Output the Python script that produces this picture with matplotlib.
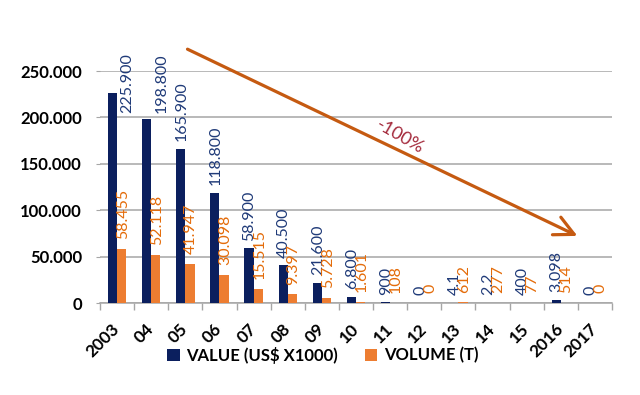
import matplotlib
matplotlib.use("Agg")
import matplotlib.pyplot as plt
import numpy as np

# ---- data ----
years = ["2003", "04", "05", "06", "07", "08", "09", "10", "11", "12",
         "13", "14", "15", "2016", "2017"]
value_usd_k = [225900, 198800, 165900, 118800, 58900, 40500, 21600, 6800,
               900, 0, 4.1, 2.2, 400, 3098, 0]
volume_t = [58455, 52118, 41947, 30098, 15515, 9397, 5728, 1601,
            108, 0, 612, 277, 77, 514, 0]
yticks = [0, 50000, 100000, 150000, 200000, 250000]
series_names = ["VALUE (US$ X1000)", "VOLUME (T)"]
trend_label = "-100%"

# ---- style ----
NAVY = "#0B1F5E"
NAVY_TXT = "#1F3A78"
ORANGE = "#ED7D31"
ORANGE_TXT = "#E46C0A"
ARROW = "#C55A11"
TREND_TXT = "#A3283A"
GRID = "#A6A6A6"

plt.rcParams["font.family"] = ["Lato", "DejaVu Sans"]


def fmt(v):
    if float(v).is_integer():
        return f"{int(v):,}".replace(",", ".")
    return str(v)


fig = plt.figure(figsize=(6.4, 3.95), dpi=100)
ax = fig.add_axes([100 / 640, 1 - 303 / 395, 512 / 640, 232 / 395])

x = np.arange(len(years))
w = 0.27
ax.bar(x - w / 2, value_usd_k, width=w, color=NAVY, label=series_names[0], zorder=3)
ax.bar(x + w / 2, volume_t, width=w, color=ORANGE, label=series_names[1], zorder=3)

ax.set_xlim(-0.5, len(years) - 0.5)
ax.set_ylim(0, 250000)
ax.set_yticks(yticks)
ax.set_yticklabels([fmt(v) for v in yticks], fontsize=12, fontweight="bold")
ax.yaxis.grid(True, color=GRID, lw=1.1, zorder=0)
ax.tick_params(axis="y", length=3, color=GRID, pad=10)

ax.set_xticks(x)
ax.set_xticklabels(years, fontsize=12.3, fontweight="bold", rotation=45,
                   ha="right", va="center", rotation_mode="anchor")
ax.set_xticks(np.arange(-0.5, len(years)), minor=True)
ax.tick_params(axis="x", which="major", length=0, pad=17)
ax.tick_params(axis="x", which="minor", length=5, color=GRID, width=1)

for s in ["top", "right", "left"]:
    ax.spines[s].set_visible(False)
ax.spines["bottom"].set_color(GRID)
ax.spines["bottom"].set_linewidth(1.1)

# data labels
blue_texts = []
for i, v in enumerate(value_usd_k):
    t = ax.annotate(fmt(v), xy=(i - 0.12, v), xytext=(0, 5.5),
                    textcoords="offset points", rotation=90, ha="center",
                    va="bottom", fontsize=11.5, color=NAVY_TXT,
                    annotation_clip=False, zorder=5)
    blue_texts.append(t)
for i, v in enumerate(volume_t):
    ax.annotate(fmt(v), xy=(i + 0.17, v), xytext=(0, 7),
                textcoords="offset points", rotation=90, ha="center",
                va="bottom", fontsize=11.5, color=ORANGE_TXT,
                annotation_clip=False, zorder=5)

# labels that would run past the chart top are moved beside the bar
fig.canvas.draw()
renderer = fig.canvas.get_renderer()
top_limit = 269000
lim_px = ax.transData.transform((0, top_limit))[1]
for i, t in enumerate(blue_texts):
    bb = t.get_window_extent(renderer)
    if bb.y1 > lim_px:
        t.xy = (i + 0.30, top_limit)
        t.set_position((0, 0))
        t.set_va("top")

# trend arrow
ax.annotate("", xy=(13.56, 71000), xytext=(1.99, 274800),
            arrowprops=dict(arrowstyle="->,head_length=0.7,head_width=0.35",
                            color=ARROW, lw=2.3, mutation_scale=20),
            annotation_clip=False, zorder=6)
ax.text(8.3, 179000, trend_label, rotation=-30, ha="center", va="center",
        fontsize=13, color=TREND_TXT, zorder=6)

leg = fig.legend(loc="center", bbox_to_anchor=(323 / 640, 1 - 355 / 395),
                 ncol=2, frameon=False, handlelength=0.75, handleheight=0.75,
                 handletextpad=0.4, columnspacing=1.6,
                 prop={"size": 12, "weight": "bold"})

fig.savefig("out.png", dpi=100)
